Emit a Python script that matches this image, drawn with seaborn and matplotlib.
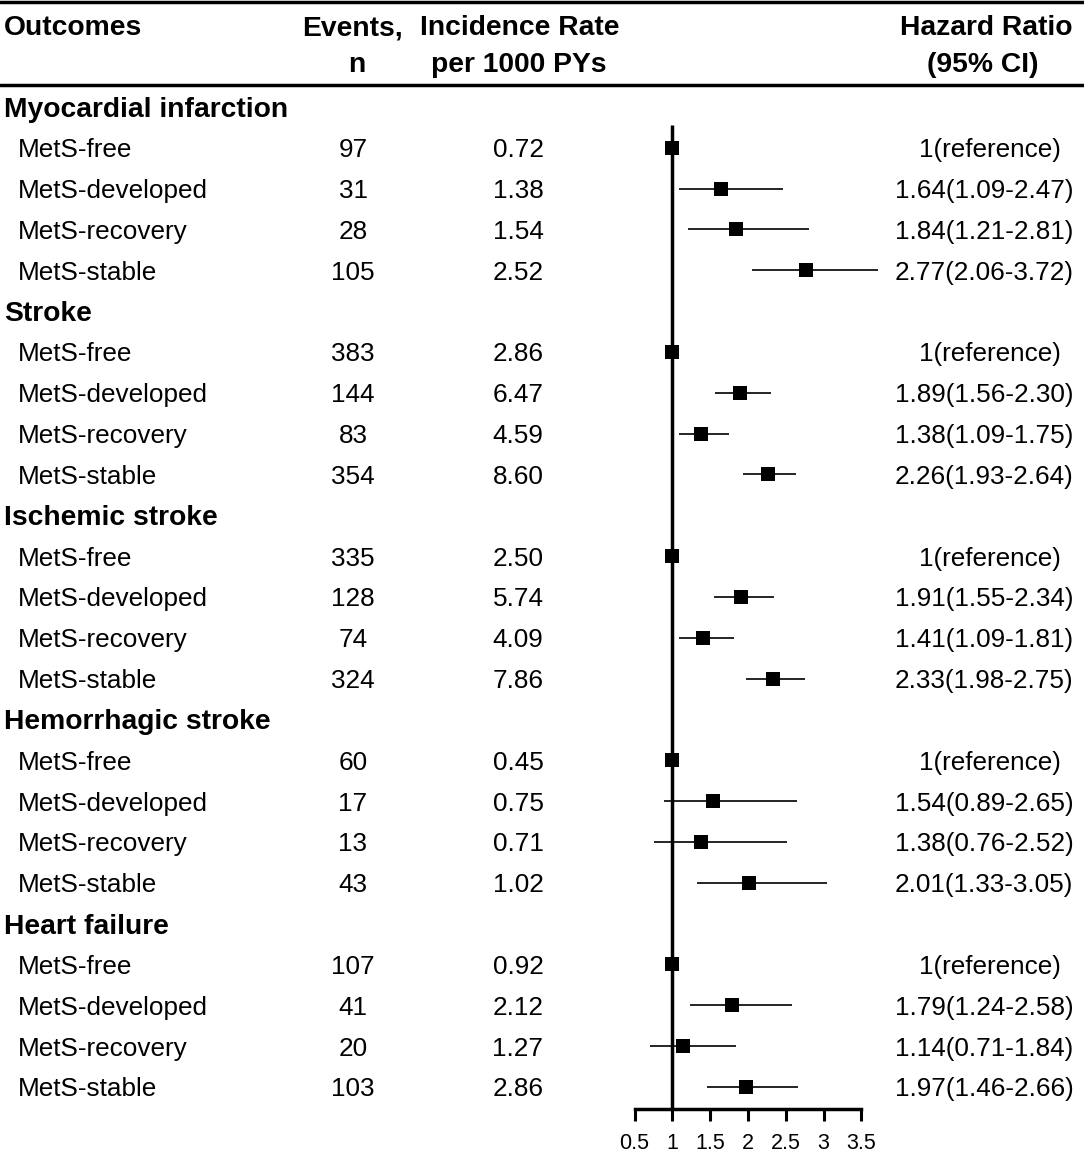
import numpy as np
import pandas as pd
import matplotlib
matplotlib.use("Agg")
import matplotlib.pyplot as plt
import matplotlib.transforms as mtransforms
import seaborn as sns

# ==================== data ====================
GROUPS = ["Myocardial infarction", "Stroke", "Ischemic stroke",
          "Hemorrhagic stroke", "Heart failure"]
SUBGROUPS = ["MetS-free", "MetS-developed", "MetS-recovery", "MetS-stable"]

EVENTS = [[97, 31, 28, 105],
          [383, 144, 83, 354],
          [335, 128, 74, 324],
          [60, 17, 13, 43],
          [107, 41, 20, 103]]
INCIDENCE = [[0.72, 1.38, 1.54, 2.52],
             [2.86, 6.47, 4.59, 8.60],
             [2.50, 5.74, 4.09, 7.86],
             [0.45, 0.75, 0.71, 1.02],
             [0.92, 2.12, 1.27, 2.86]]
HR = [[1, 1.64, 1.84, 2.77],
      [1, 1.89, 1.38, 2.26],
      [1, 1.91, 1.41, 2.33],
      [1, 1.54, 1.38, 2.01],
      [1, 1.79, 1.14, 1.97]]
HR_LO = [[np.nan, 1.09, 1.21, 2.06],
         [np.nan, 1.56, 1.09, 1.93],
         [np.nan, 1.55, 1.09, 1.98],
         [np.nan, 0.89, 0.76, 1.33],
         [np.nan, 1.24, 0.71, 1.46]]
HR_HI = [[np.nan, 2.47, 2.81, 3.72],
         [np.nan, 2.30, 1.75, 2.64],
         [np.nan, 2.34, 1.81, 2.75],
         [np.nan, 2.65, 2.52, 3.05],
         [np.nan, 2.58, 1.84, 2.66]]

X_TICKS = [0.5, 1, 1.5, 2, 2.5, 3, 3.5]
X_TICKLABELS = ["0.5", "1", "1.5", "2", "2.5", "3", "3.5"]

# ==================== layout ====================
W, H = 1084, 1155
ROW0_PX, ROW_STEP = 107, 40.83
X0_PX, X_STEP = 634.5, 75.6          # pixel of HR=0.5, pixels per HR unit


def px_to_row(py):
    return (py - ROW0_PX) / ROW_STEP


def px_to_fx(px):
    return px / W


rows = []
for g, grp in enumerate(GROUPS):
    for k, sub in enumerate(SUBGROUPS):
        lo, hi = HR_LO[g][k], HR_HI[g][k]
        is_ref = bool(np.isnan(lo))
        if is_ref:
            lab = "1(reference)"
        else:
            lab = f"{HR[g][k]:.2f}({lo:.2f}-{hi:.2f})"
        rows.append(dict(row=5 * g + 1 + k, group=grp, sub=sub,
                         events=EVENTS[g][k], rate=INCIDENCE[g][k],
                         hr=HR[g][k], lo=lo, hi=hi, label=lab, ref=is_ref))
df = pd.DataFrame(rows)

sns.set_style("white")
plt.rcParams["font.family"] = ["Liberation Sans", "DejaVu Sans"]
plt.rcParams["text.color"] = "black"
plt.rcParams["xtick.color"] = "black"

fig = plt.figure(figsize=(W / 100, H / 100), dpi=100)
ax = fig.add_axes([0, 0, 1, 1])
ax.set_xlim(0.5 - X0_PX / X_STEP, 0.5 + (W - X0_PX) / X_STEP)
ax.set_ylim(px_to_row(H), px_to_row(0))
ax.patch.set_alpha(0)

axis_row = px_to_row(1109)

# CI lines and squares
ci = df.dropna(subset=["lo"])
ax.hlines(ci["row"], ci["lo"], ci["hi"], color="black", lw=1.2, zorder=2)
ax.vlines(1, px_to_row(125), axis_row, color="black", lw=2.5, zorder=3)
sns.scatterplot(data=df, x="hr", y="row", marker="s", s=100, color="black",
                linewidth=0, ax=ax, zorder=4, legend=False)

# table rules
ax.axhline(px_to_row(2), color="black", lw=2.5)
ax.axhline(px_to_row(85), color="black", lw=2.5)

# x axis
for side in ["top", "left", "right"]:
    ax.spines[side].set_visible(False)
ax.spines["bottom"].set_position(("data", axis_row))
ax.spines["bottom"].set_bounds(X_TICKS[0], X_TICKS[-1])
ax.spines["bottom"].set_linewidth(2.5)
ax.spines["bottom"].set_color("black")
ax.set_xticks(X_TICKS)
ax.set_xticklabels(X_TICKLABELS)
ax.tick_params(axis="x", direction="out", length=8.6, width=2.2,
               labelsize=15.5, pad=9, colors="black", bottom=True)
ax.set_yticks([])
ax.set_xlabel("")
ax.set_ylabel("")

tr = mtransforms.blended_transform_factory(ax.transAxes, ax.transData)
BODY = 18.8
BOLD = 20.3

# header
h1, h2 = px_to_row(25), px_to_row(62)
ax.text(px_to_fx(4), h1, "Outcomes", transform=tr, fontsize=BOLD,
        fontweight="bold", va="center_baseline", ha="left")
ax.text(px_to_fx(352), h1, "Events,", transform=tr, fontsize=BOLD,
        fontweight="bold", va="center_baseline", ha="center")
ax.text(px_to_fx(357), h2, "n", transform=tr, fontsize=BOLD,
        fontweight="bold", va="center_baseline", ha="center")
ax.text(px_to_fx(520), h1, "Incidence Rate", transform=tr, fontsize=BOLD,
        fontweight="bold", va="center_baseline", ha="center")
ax.text(px_to_fx(519), h2, "per 1000 PYs", transform=tr, fontsize=BOLD,
        fontweight="bold", va="center_baseline", ha="center")
ax.text(px_to_fx(986), h1, "Hazard Ratio", transform=tr, fontsize=BOLD,
        fontweight="bold", va="center_baseline", ha="center")
ax.text(px_to_fx(983), h2, "(95% CI)", transform=tr, fontsize=BOLD,
        fontweight="bold", va="center_baseline", ha="center")

# group titles
for g, grp in enumerate(GROUPS):
    ax.text(px_to_fx(4), 5 * g, grp, transform=tr, fontsize=BOLD,
            fontweight="bold", va="center_baseline", ha="left")

# body rows
for _, r in df.iterrows():
    ax.text(px_to_fx(18), r["row"], r["sub"], transform=tr, fontsize=BODY,
            va="center_baseline", ha="left")
    ax.text(px_to_fx(353), r["row"], str(r["events"]), transform=tr,
            fontsize=BODY, va="center_baseline", ha="center")
    ax.text(px_to_fx(518), r["row"], f"{r['rate']:.2f}", transform=tr,
            fontsize=BODY, va="center_baseline", ha="center")
    hx = 990 if r["ref"] else 984
    ax.text(px_to_fx(hx), r["row"], r["label"], transform=tr,
            fontsize=BODY, va="center_baseline", ha="center")

fig.savefig("out.png", dpi=100)
plt.close(fig)
